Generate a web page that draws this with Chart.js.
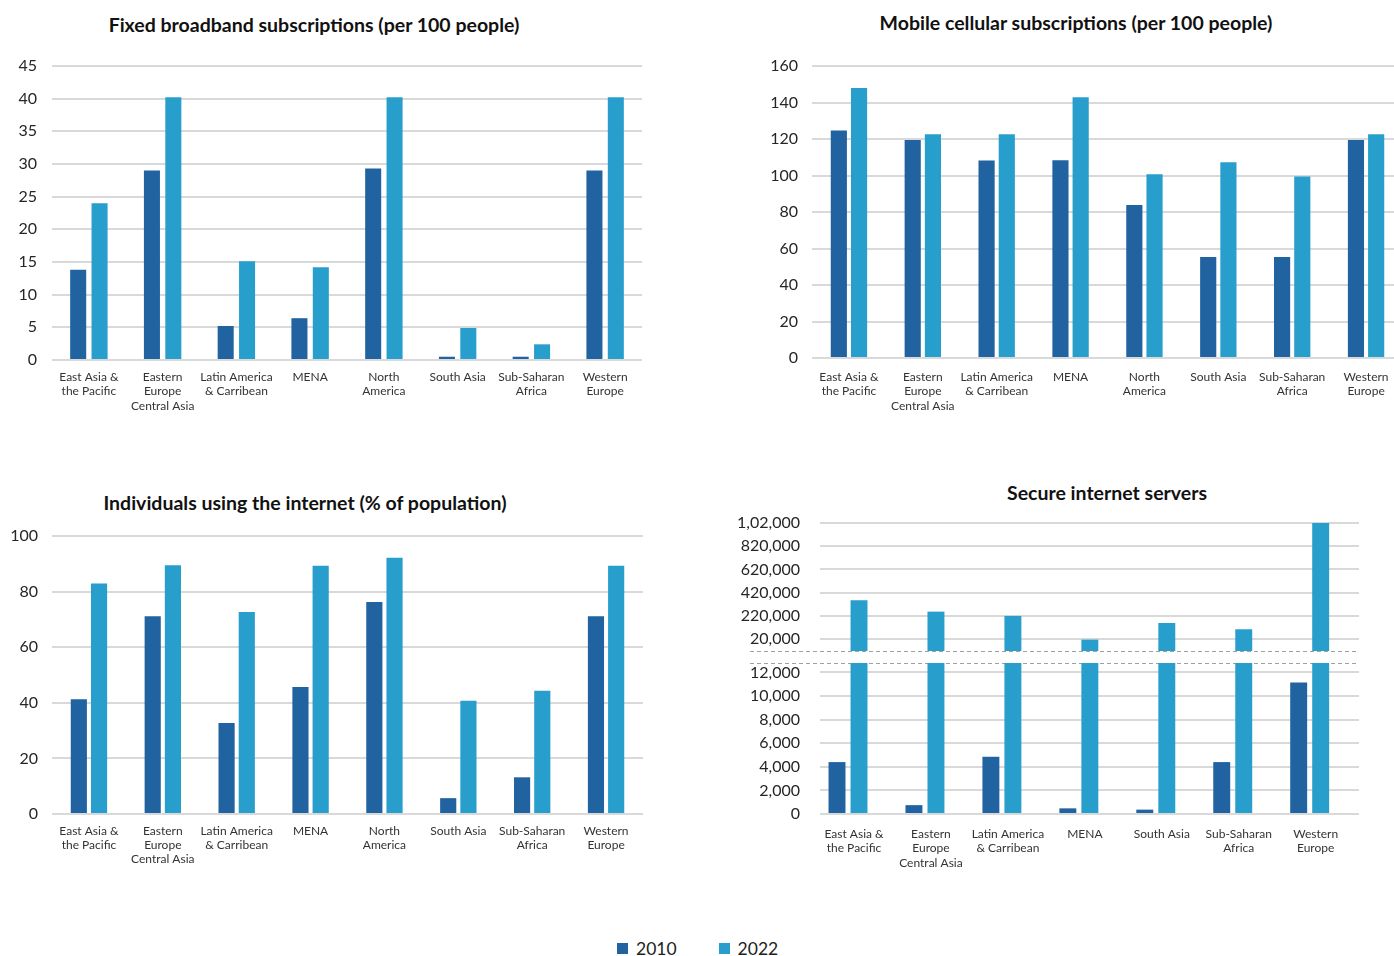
<!DOCTYPE html>
<html>
<head>
<meta charset="utf-8">
<script src="https://cdn.jsdelivr.net/npm/chart.js@4.4.1/dist/chart.umd.min.js"></script>
<style>
  html, body { margin: 0; padding: 0; background: #fff; width: 1394px; height: 956px; overflow: hidden; }
  body { position: relative; font-family: Lato, "Noto Sans", sans-serif; }
  canvas { position: absolute; display: block; }
  .title { position: absolute; transform: translate(-50%, -50%); white-space: nowrap;
           font-family: Lato, "Noto Sans", sans-serif; font-weight: 700; font-size: 19.5px; color: #111; }
  #legend { position: absolute; left: 617px; top: 938px; height: 20px; display: flex; align-items: center;
            font-family: Lato, "Noto Sans", sans-serif; font-size: 17.5px; color: #222; }
  #legend .item { display: flex; align-items: center; margin-right: 42px; }
  #legend .sw { width: 11px; height: 11px; margin-right: 8px; display: inline-block; }
</style>
</head>
<body>
<div class="title" style="left:314px; top:24px;">Fixed broadband subscriptions (per 100 people)</div>
<div class="title" style="left:1076px; top:22px;">Mobile cellular subscriptions (per 100 people)</div>
<div class="title" style="left:305px; top:502px;">Individuals using the internet (% of population)</div>
<div class="title" style="left:1107px; top:492px;">Secure internet servers</div>

<canvas id="c1" width="700" height="440" style="left:0px; top:0px;"></canvas>
<canvas id="c2" width="720" height="440" style="left:700px; top:0px;"></canvas>
<canvas id="c3" width="700" height="420" style="left:0px; top:470px;"></canvas>
<canvas id="c4a" width="694" height="201" style="left:700px; top:480px;"></canvas>
<canvas id="c4b" width="694" height="257" style="left:700px; top:633px;"></canvas>
<div id="legend"></div>

<script>
// ---------------- DATA ----------------
const categories = [
  ['East Asia &', 'the Pacific'],
  ['Eastern', 'Europe', 'Central Asia'],
  ['Latin America', '& Carribean'],
  ['MENA'],
  ['North', 'America'],
  ['South Asia'],
  ['Sub-Saharan', 'Africa'],
  ['Western', 'Europe']
];
const secureCategories = [
  ['East Asia &', 'the Pacific'],
  ['Eastern', 'Europe', 'Central Asia'],
  ['Latin America', '& Carribean'],
  ['MENA'],
  ['South Asia'],
  ['Sub-Saharan', 'Africa'],
  ['Western', 'Europe']
];
const seriesNames = ['2010', '2022'];

const broadband2010 = [13.8, 29.0, 5.2, 6.4, 29.3, 0.5, 0.5, 29.0];
const broadband2022 = [24.0, 40.2, 15.1, 14.2, 40.2, 4.9, 2.4, 40.2];

const mobile2010 = [124.6, 119.4, 108.2, 108.3, 83.9, 55.3, 55.3, 119.4];
const mobile2022 = [148.0, 122.6, 122.6, 142.9, 100.7, 107.2, 99.4, 122.6];

const internet2010 = [41.3, 71.1, 32.7, 45.7, 76.3, 5.7, 13.2, 71.1];
const internet2022 = [82.9, 89.5, 72.7, 89.3, 92.2, 40.7, 44.3, 89.3];

const secure2010 = [4400, 750, 4850, 480, 370, 4400, 11150];
const secure2022 = [355000, 257000, 220000, 16000, 159000, 105000, 1020000];

const broadbandTicks = [0, 5, 10, 15, 20, 25, 30, 35, 40, 45];
const mobileTicks = [0, 20, 40, 60, 80, 100, 120, 140, 160];
const internetTicks = [0, 20, 40, 60, 80, 100];
const secureUpperTicks = [20000, 220000, 420000, 620000, 820000, 1020000];
const secureUpperTickLabels = ['20,000', '220,000', '420,000', '620,000', '820,000', '1,02,000'];
const secureLowerTicks = [0, 2000, 4000, 6000, 8000, 10000, 12000];
const secureLowerTickLabels = ['0', '2,000', '4,000', '6,000', '8,000', '10,000', '12,000'];

// axis break ranges for the secure servers chart
const secureUpperRange = [-82000, 1020000];
const secureLowerRange = [0, 12800];

// ---------------- STYLE ----------------
const COLORS = ['#2163a1', '#289ecd'];
const GRID = '#d9d9d9';
Chart.defaults.font.family = 'Lato, "Noto Sans", sans-serif';

const breakLine = {
  id: 'breakLine',
  beforeDatasetsDraw(chart, args, opts) {
    const { ctx, chartArea } = chart;
    const y = Math.round(opts.edge === 'bottom' ? chartArea.bottom : chartArea.top) + 0.5;
    ctx.save();
    ctx.strokeStyle = '#a0a0a0';
    ctx.lineWidth = 1;
    ctx.setLineDash([4, 3]);
    ctx.beginPath();
    ctx.moveTo(chartArea.left - opts.extend, y);
    ctx.lineTo(chartArea.right, y);
    ctx.stroke();
    ctx.restore();
  }
};

function yScale(min, max, ticks, labels, width, pad) {
  return {
    min, max,
    afterBuildTicks: s => { s.ticks = ticks.map(v => ({ value: v })); },
    ticks: {
      autoSkip: false, padding: pad, color: '#262626', font: { size: 16 },
      callback: (v, i) => labels ? labels[i] : String(ticks[i])
    },
    grid: { color: GRID, lineWidth: 2, drawTicks: false },
    border: { display: false },
    afterFit: s => { s.width = width; }
  };
}

function xCatScale(height, pad) {
  return {
    grid: { display: false, drawTicks: false },
    border: { display: false },
    ticks: { padding: pad, color: '#333', font: { size: 12, lineHeight: 1.2 }, maxRotation: 0, minRotation: 0, autoSkip: false },
    afterFit: s => { s.height = height; }
  };
}

function makeDatasets(a, b) {
  return [
    { label: seriesNames[0], data: a, backgroundColor: COLORS[0] },
    { label: seriesNames[1], data: b, backgroundColor: COLORS[1] }
  ];
}

function simpleChart(id, d2010, d2022, ticks, geo) {
  return new Chart(document.getElementById(id), {
    type: 'bar',
    data: { labels: categories, datasets: makeDatasets(d2010, d2022) },
    options: {
      responsive: false, animation: false,
      layout: { padding: { top: geo.top, right: geo.right, left: 0, bottom: 0 } },
      datasets: { bar: { categoryPercentage: geo.catPct, barPercentage: geo.barPct } },
      plugins: { legend: { display: false }, tooltip: { enabled: false } },
      scales: {
        x: xCatScale(geo.xh, geo.xpad),
        y: yScale(ticks[0], ticks[ticks.length - 1], ticks, null, geo.yw, geo.ypad)
      }
    }
  });
}

// Chart 1: fixed broadband
simpleChart('c1', broadband2010, broadband2022, broadbandTicks,
  { top: 66, right: 58, xh: 80, yw: 52, ypad: 15, xpad: 10, catPct: 0.58, barPct: 0.75 });

// Chart 2: mobile cellular (plot continues past the right edge of the page)
simpleChart('c2', mobile2010, mobile2022, mobileTicks,
  { top: 66, right: 17, xh: 82, yw: 112, ypad: 14, xpad: 12, catPct: 0.547, barPct: 0.8 });

// Chart 3: internet users
simpleChart('c3', internet2010, internet2022, internetTicks,
  { top: 66, right: 57, xh: 76, yw: 52, ypad: 14, xpad: 9.5, catPct: 0.547, barPct: 0.8 });

// Chart 4: secure internet servers, broken axis drawn as two stacked panels
function secureX(display, height) {
  return {
    type: 'linear', display, offset: false,
    min: -0.364, max: secureCategories.length - 1 + 0.641,
    afterBuildTicks: s => { s.ticks = secureCategories.map((_, i) => ({ value: i })); },
    grid: { display: false, drawTicks: false, offset: false },
    border: { display: false },
    ticks: {
      padding: 13, labelOffset: 6, color: '#333', font: { size: 12, lineHeight: 1.2 },
      maxRotation: 0, minRotation: 0, autoSkip: false,
      callback: v => secureCategories[v]
    },
    afterFit: s => { s.height = height; }
  };
}
const toXY = arr => arr.map((v, i) => ({ x: i, y: v }));

// upper panel: only values above the lower panel's range
new Chart(document.getElementById('c4a'), {
  type: 'bar',
  data: {
    datasets: [
      { label: seriesNames[0], data: toXY(secure2010.map(v => v > secureLowerRange[1] ? v : null)),
        backgroundColor: COLORS[0], base: secureUpperRange[0] },
      { label: seriesNames[1], data: toXY(secure2022.map(v => v > secureLowerRange[1] ? v : null)),
        backgroundColor: COLORS[1], base: secureUpperRange[0] }
    ]
  },
  options: {
    responsive: false, animation: false,
    layout: { padding: { top: 43, right: 35, left: 0, bottom: 30 } },
    datasets: { bar: { categoryPercentage: 0.572, barPercentage: 0.77 } },
    plugins: { legend: { display: false }, tooltip: { enabled: false }, breakLine: { edge: 'bottom', extend: 70 } },
    scales: {
      x: secureX(false, 0),
      y: yScale(secureUpperRange[0], secureUpperRange[1], secureUpperTicks, secureUpperTickLabels, 120, 20)
    }
  },
  plugins: [breakLine]
});

// lower panel
new Chart(document.getElementById('c4b'), {
  type: 'bar',
  data: {
    datasets: [
      { label: seriesNames[0], data: toXY(secure2010), backgroundColor: COLORS[0] },
      { label: seriesNames[1], data: toXY(secure2022), backgroundColor: COLORS[1] }
    ]
  },
  options: {
    responsive: false, animation: false,
    layout: { padding: { top: 30, right: 35, left: 0, bottom: 0 } },
    datasets: { bar: { categoryPercentage: 0.572, barPercentage: 0.77 } },
    plugins: { legend: { display: false }, tooltip: { enabled: false }, breakLine: { edge: 'top', extend: 70 } },
    scales: {
      x: secureX(true, 76),
      y: yScale(secureLowerRange[0], secureLowerRange[1], secureLowerTicks, secureLowerTickLabels, 120, 20)
    }
  },
  plugins: [breakLine]
});

// shared legend
const legend = document.getElementById('legend');
seriesNames.forEach((name, i) => {
  const item = document.createElement('span');
  item.className = 'item';
  const sw = document.createElement('span');
  sw.className = 'sw';
  sw.style.background = COLORS[i];
  item.appendChild(sw);
  item.appendChild(document.createTextNode(name));
  legend.appendChild(item);
});
</script>
</body>
</html>
